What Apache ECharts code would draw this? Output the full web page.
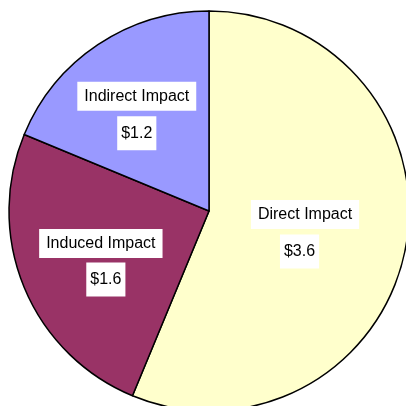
<!DOCTYPE html>
<html>
<head>
<meta charset="utf-8">
<script src="https://cdn.jsdelivr.net/npm/echarts@6/dist/echarts.min.js"></script>
<style>html,body{margin:0;padding:0;background:#fff;}#c{width:406px;height:406px;}</style>
</head>
<body>
<div id="c"></div>
<script>
const categories = ['Direct Impact', 'Induced Impact', 'Indirect Impact'];
const values = [3.6, 1.6, 1.2];
const colors = ['#FFFFCC', '#993366', '#9999FF'];
const nameOffsets = [[-5, -16.5], [-13, -7], [-15, -29]];
const valueOffsets = [[-10.5, 20.5], [-8, 29], [-15, 8]];

const baseLabel = {
  position: 'inside',
  fontFamily: 'Liberation Sans',
  fontSize: 16,
  color: '#000',
  backgroundColor: '#fff',
  lineHeight: 18
};

const common = {
  type: 'pie',
  center: [209, 211],
  radius: [0, 200],
  startAngle: 90,
  clockwise: true,
  silent: true,
  labelLine: {show: false},
  emphasis: {disabled: true}
};

const chart = echarts.init(document.getElementById('c'), null, {renderer: 'canvas'});
chart.setOption({
  animation: false,
  series: [
    Object.assign({}, common, {
      itemStyle: {borderColor: '#000', borderWidth: 1.5},
      label: Object.assign({}, baseLabel, {formatter: '{b}', padding: [6, 7, 5, 7]}),
      data: categories.map((name, i) => ({
        name: name, value: values[i],
        itemStyle: {color: colors[i]},
        label: {offset: nameOffsets[i]}
      }))
    }),
    Object.assign({}, common, {
      itemStyle: {color: 'rgba(0,0,0,0)', borderWidth: 0},
      label: Object.assign({}, baseLabel, {
        formatter: function (p) { return '$' + p.value.toFixed(1); },
        padding: [8, 4, 8, 4]
      }),
      data: categories.map((name, i) => ({
        name: name, value: values[i],
        label: {offset: valueOffsets[i]}
      }))
    })
  ]
});
</script>
</body>
</html>
